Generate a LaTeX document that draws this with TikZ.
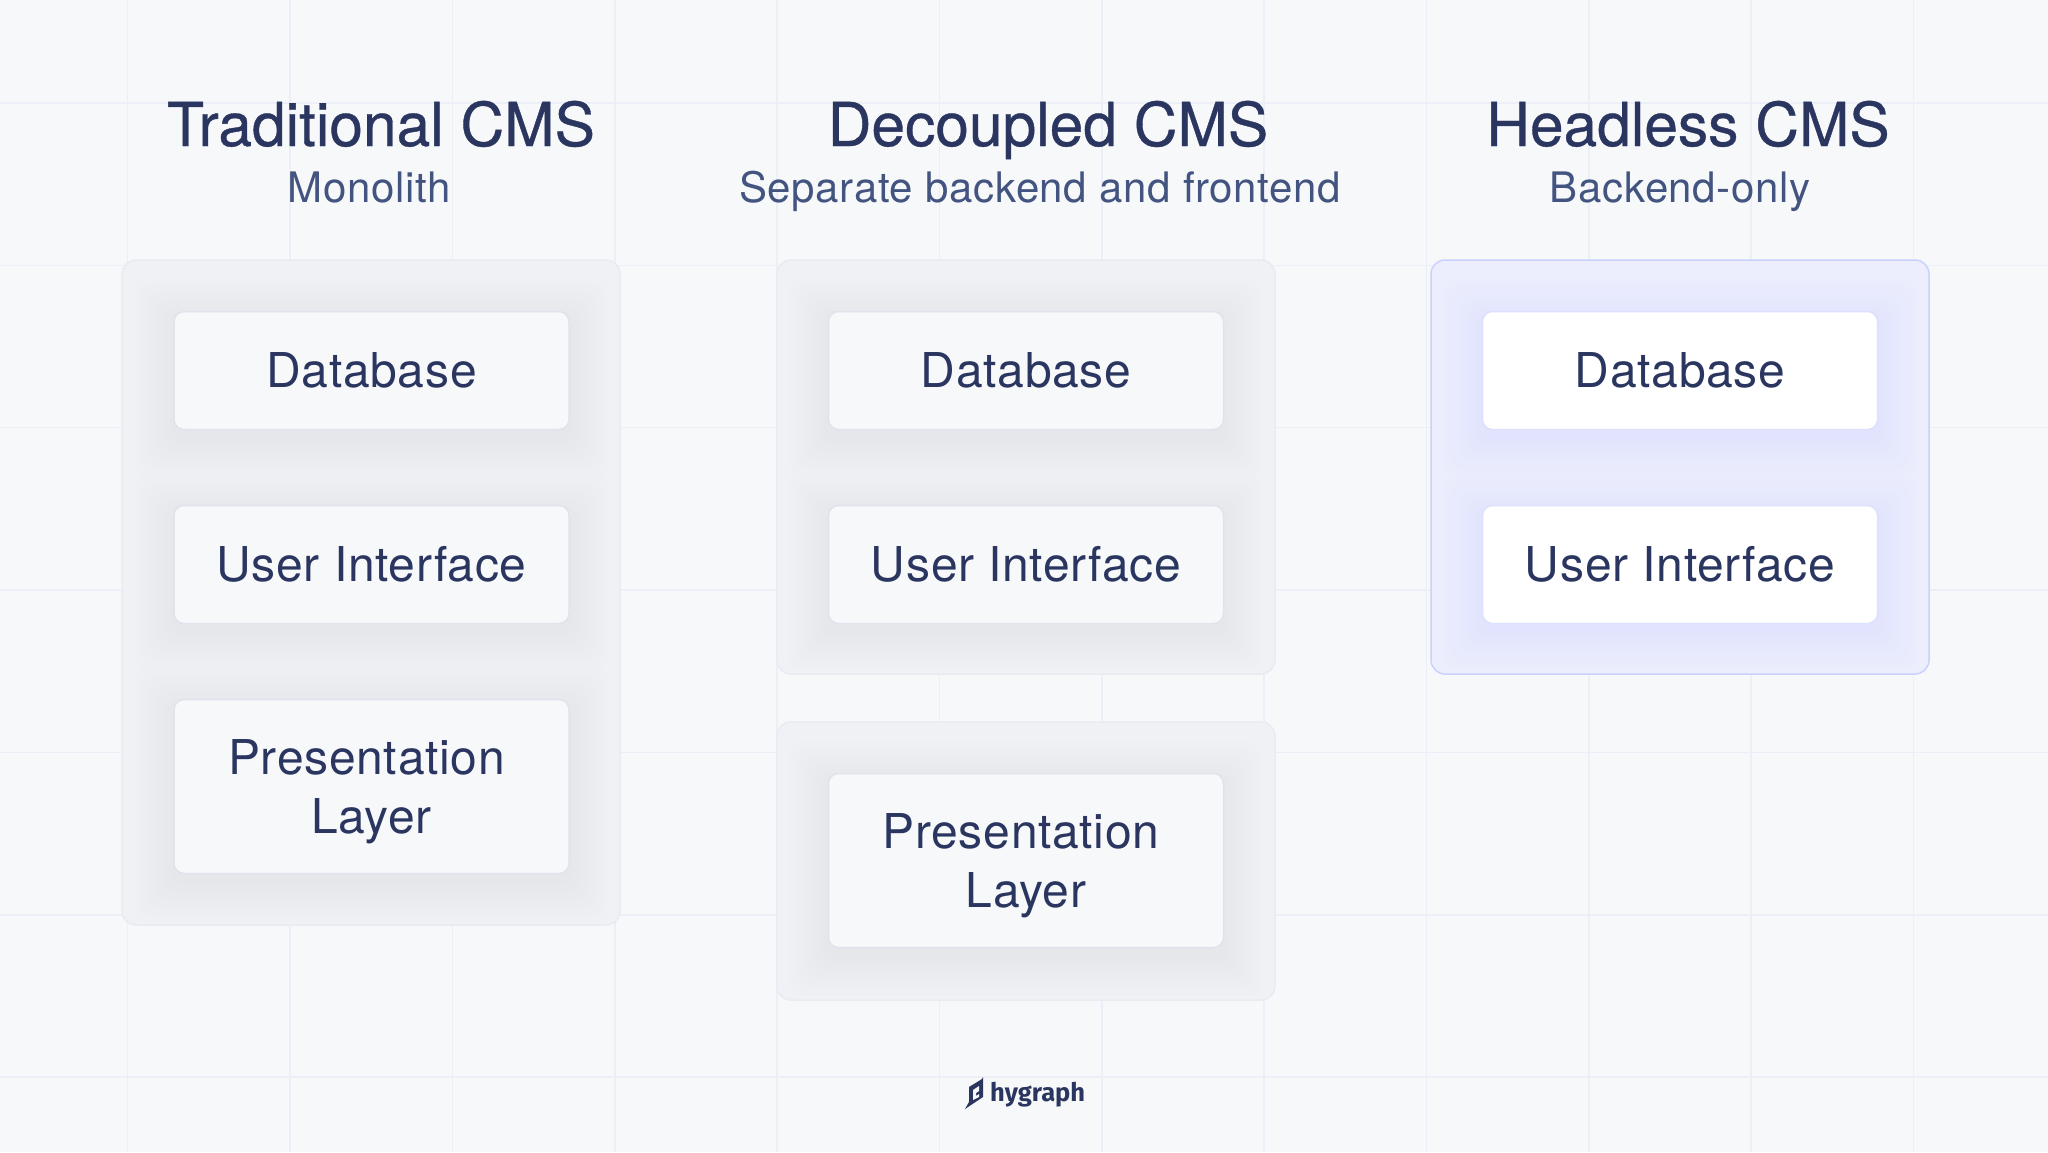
\documentclass[tikz,border=0pt]{standalone}
\usepackage{fontspec}
\setmainfont{TeX Gyre Heros}[LetterSpace=1.5]
\newfontfamily\headfont{TeX Gyre Heros}[FakeBold=0.6]
\newfontfamily\logofont{Fira Sans}
\usetikzlibrary{positioning}
\definecolor{pagebg}{HTML}{F7F8FA}
\definecolor{gridcol}{HTML}{EDEFF8}
\definecolor{inkdark}{HTML}{2A3660}
\definecolor{inksoft}{HTML}{42547F}
\definecolor{panelfill}{HTML}{EFF1F5}
\definecolor{paneledge}{HTML}{E9EBF1}
\definecolor{cardedge}{HTML}{DFE3EC}
\definecolor{bluefill}{HTML}{ECEEFD}
\definecolor{blueedge}{HTML}{C9D2FC}
\definecolor{whiteedge}{HTML}{DDE1FD}
\definecolor{blueglow}{HTML}{5A66FF}
\tikzstyle{gridline}=[draw=gridcol,line width=1.5pt]
\tikzstyle{title}=[text=inkdark,font=\headfont\fontsize{60.5}{60}\selectfont,anchor=base,inner sep=0pt]
\tikzstyle{subtitle}=[text=inksoft,font=\fontsize{42}{44}\selectfont,anchor=base,inner sep=0pt]
\tikzstyle{panel}=[draw=paneledge,fill=panelfill,line width=1.5pt,rounded corners=14pt]
\tikzstyle{bluepanel}=[draw=blueedge,fill=bluefill,line width=1.5pt,rounded corners=14pt]
\tikzstyle{card}=[rectangle,rounded corners=10pt,draw=cardedge,line width=1.5pt,fill=pagebg,
text=inkdark,font=\fontsize{48}{59}\selectfont,align=center,
minimum width=395pt,minimum height=118pt,inner sep=0pt]
\tikzstyle{tallcard}=[card,minimum height=174pt]
\tikzstyle{whitecard}=[card,fill=white,draw=whiteedge]
% soft glow under a card: corners, tint and strength
\newcommand{\cardglow}[6]{
	\foreach \g in {4,8,...,40}
		\fill[#5,opacity=#6,rounded corners=16pt]
			({#1-44+\g},{#2-36+\g}) rectangle ({#3+44-\g},{#4+52-\g});
}
\begin{document}
\begin{tikzpicture}[x=1pt,y=-1pt]
	\useasboundingbox (0,0) rectangle (2048,1152);
	\fill[pagebg] (0,0) rectangle (2048,1152);

	\foreach \n in {0,...,11}
		\draw[gridline] ({127.7+162.35*\n},0) -- ({127.7+162.35*\n},1152);
	\foreach \n in {0,...,6}
		\draw[gridline] (0,{103+162.35*\n}) -- (2048,{103+162.35*\n});

	% headings
	\node[title] (t1) at (381,146) {Traditional CMS};
	\node[subtitle] (s1) at (369,202) {Monolith};
	\node[title] (t2) at (1048,146) {Decoupled CMS};
	\node[subtitle] (s2) at (1040,202) {Separate backend and frontend};
	\node[title] (t3) at (1688,146) {Headless CMS};
	\node[subtitle] (s3) at (1680,202) {Backend-only};

	% panels
	\draw[panel] (122,260) rectangle (620,925);
	\draw[panel] (777,260) rectangle (1275,674);
	\draw[panel] (777,722) rectangle (1275,1000);
	\draw[bluepanel] (1431,260) rectangle (1929,674);

	\cardglow{174}{311}{569}{430}{inkdark}{0.0025}
	\cardglow{174}{505}{569}{623}{inkdark}{0.0025}
	\cardglow{174}{699}{569}{873}{inkdark}{0.0025}
	\cardglow{828}{311}{1223}{430}{inkdark}{0.0025}
	\cardglow{828}{505}{1223}{623}{inkdark}{0.0025}
	\cardglow{828}{773}{1223}{948}{inkdark}{0.0025}
	\cardglow{1482}{311}{1878}{430}{blueglow}{0.004}
	\cardglow{1482}{505}{1878}{623}{blueglow}{0.004}

	\node[card] (db1) at (371.5,370.5) {Database};
	\node[card, below=74.5pt of db1] (ui1) {User Interface};
	\node[tallcard, below=74.5pt of ui1] (pl1) {\rule{0pt}{46pt}Presentation\hspace*{10pt}\\Layer};

	\node[card] (db2) at (1026,370.5) {Database};
	\node[card, below=74.5pt of db2] (ui2) {User Interface};
	\node[tallcard] (pl2) at (1026,860.5) {\rule{0pt}{46pt}Presentation\hspace*{10pt}\\Layer};

	\node[whitecard] (db3) at (1680,370.5) {Database};
	\node[whitecard, below=74.5pt of db3] (ui3) {User Interface};

	% logo
	\fill[inkdark] (965,1109) -- (969,1102) -- (969,1087) -- (982,1079) -- (983,1077) -- (983,1097) -- cycle;
	\fill[pagebg] (973,1090) -- (979,1086) -- (979,1091) -- (976,1093) -- (976,1096) -- (979,1094) -- (979,1097) -- (973,1100) -- cycle;
	\node[text=inkdark,font=\logofont\bfseries\fontsize{25.5}{30}\selectfont,anchor=base west,inner sep=0pt] (logo) at (990,1101) {hygraph};
\end{tikzpicture}
\end{document}
